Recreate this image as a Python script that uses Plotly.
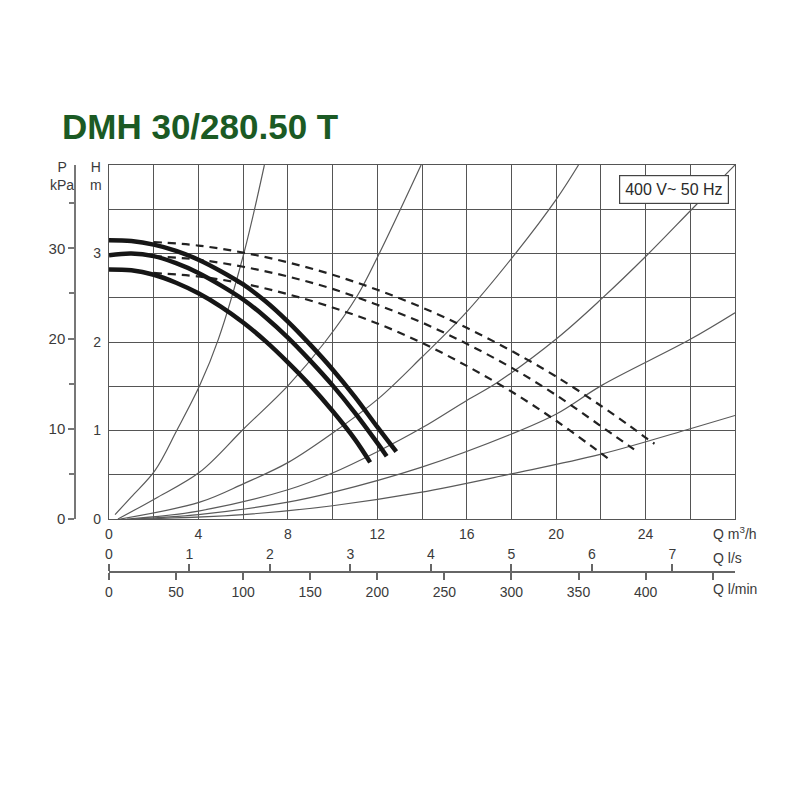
import plotly.graph_objects as go

# ---------------- data ----------------
TITLE = "DMH 30/280.50 T"
BOX_TEXT = "400 V~ 50 Hz"

# Pump curves, flow Q in m3/h, head H in m (solid, thick)
pump_top_q = [0, 1, 2, 3, 4, 5, 6, 7, 8, 9, 10, 11, 12, 12.85]
pump_top_h = [3.15, 3.14, 3.10, 3.03, 2.93, 2.80, 2.65, 2.46, 2.23, 1.97, 1.69, 1.38, 1.04, 0.76]
pump_mid_q = [0, 1, 2, 3, 4, 5, 6, 7, 8, 9, 10, 11, 12, 12.42]
pump_mid_h = [2.98, 3.00, 2.97, 2.89, 2.78, 2.64, 2.48, 2.28, 2.05, 1.79, 1.51, 1.20, 0.86, 0.71]
pump_low_q = [0, 1, 2, 3, 4, 5, 6, 7, 8, 9, 10, 11, 11.68]
pump_low_h = [2.82, 2.81, 2.76, 2.67, 2.55, 2.40, 2.22, 2.01, 1.77, 1.51, 1.22, 0.90, 0.64]

# Dashed continuations
dash_top_q = [2, 4, 6, 8, 10, 12, 14, 16, 18, 20, 22, 23.3, 24.0, 24.4]
dash_top_h = [3.13, 3.09, 3.01, 2.90, 2.76, 2.59, 2.39, 2.16, 1.90, 1.61, 1.28, 1.05, 0.92, 0.85]
dash_mid_q = [2, 4, 6, 8, 10, 12, 14, 16, 18, 20, 22, 23.24, 23.7]
dash_mid_h = [2.97, 2.93, 2.85, 2.74, 2.60, 2.42, 2.22, 1.98, 1.71, 1.40, 1.05, 0.83, 0.75]
dash_low_q = [2, 4, 6, 8, 10, 12, 14, 16, 18, 20, 21.97, 22.4]
dash_low_h = [2.78, 2.74, 2.66, 2.54, 2.39, 2.21, 1.99, 1.73, 1.44, 1.11, 0.75, 0.67]

# System (installation) curves, thin
sys1_q = [0.27, 1.0, 2.06, 3.03, 4.06, 4.89, 6.03, 6.95]
sys1_h = [0.05, 0.25, 0.55, 1.00, 1.51, 2.03, 3.00, 4.00]
sys2_q = [0.4, 2.06, 4.06, 6.03, 8.02, 9.66, 11.1, 12.05, 13.96]
sys2_h = [0.0, 0.23, 0.53, 1.02, 1.51, 2.00, 2.52, 2.98, 4.00]
sys3_q = [0.5, 4.06, 6.03, 8.02, 10.05, 12.05, 14.0, 16.0, 18.15, 20.03, 21.0]
sys3_h = [0.0, 0.19, 0.40, 0.64, 0.98, 1.36, 1.83, 2.34, 2.99, 3.62, 4.00]
sys4_q = [0.8, 4, 8, 10, 12, 14, 16, 17.35, 20.03, 22.04, 24.06, 26.07, 28]
sys4_h = [0.0, 0.09, 0.33, 0.52, 0.76, 1.03, 1.34, 1.54, 2.04, 2.49, 2.98, 3.50, 4.00]
sys5_q = [1.0, 4, 8, 10, 13.92, 18, 20.03, 22.04, 26, 28]
sys5_h = [0.0, 0.05, 0.19, 0.30, 0.58, 0.96, 1.19, 1.51, 2.03, 2.33]
sys6_q = [1.5, 6, 10, 13.92, 18, 21.97, 26, 28]
sys6_h = [0.0, 0.05, 0.15, 0.30, 0.51, 0.73, 1.02, 1.17]

# Axes ticks
q_m3h_vals = [0, 2, 4, 6, 8, 10, 12, 14, 16, 18, 20, 22, 24, 26]
q_m3h_text = ["0", "", "4", "", "8", "", "12", "", "16", "", "20", "", "24", ""]
h_vals = [0, 0.5, 1, 1.5, 2, 2.5, 3, 3.5]
h_text = ["0", "", "1", "", "2", "", "3", ""]
q_ls_vals = [0, 1, 2, 3, 4, 5, 6, 7]
q_ls_text = ["0", "1", "2", "3", "4", "5", "6", "7"]
q_lmin_vals = [0, 50, 100, 150, 200, 250, 300, 350, 400, 450]
q_lmin_text = ["0", "50", "100", "150", "200", "250", "300", "350", "400", " "]
p_vals = [0, 10, 20, 30]
p_text = ["0", "10", "20", "30"]

Q_MAX = 28.0   # m3/h
H_MAX = 4.0    # m

# ---------------- figure ----------------
OFF = 8                      # page body margin
W, H = 784, 784
ML, MR, MT, MB = 32, 52, 157, 192
PW, PH = W - ML - MR, H - MT - MB


def px_x(x):
    """page pixel x -> paper fraction"""
    return (x - OFF - ML) / PW


def px_y(y):
    """page pixel y -> paper fraction"""
    return (H - MB - (y - OFF)) / PH


fig = go.Figure()

thin = dict(color="#5a5a5a", width=1.2)
for q, h in [(sys1_q, sys1_h), (sys2_q, sys2_h), (sys3_q, sys3_h),
             (sys4_q, sys4_h), (sys5_q, sys5_h), (sys6_q, sys6_h)]:
    fig.add_trace(go.Scatter(x=q, y=h, mode="lines", line=dict(shape="spline", **thin),
                             hoverinfo="skip", showlegend=False))

for q, h in [(dash_top_q, dash_top_h), (dash_mid_q, dash_mid_h), (dash_low_q, dash_low_h)]:
    fig.add_trace(go.Scatter(x=q, y=h, mode="lines",
                             line=dict(color="#222222", width=2.2, dash="8px,6px", shape="spline"),
                             showlegend=False))

for q, h in [(pump_top_q, pump_top_h), (pump_mid_q, pump_mid_h), (pump_low_q, pump_low_h)]:
    fig.add_trace(go.Scatter(x=q, y=h, mode="lines",
                             line=dict(color="#161616", width=4.5, shape="spline"),
                             showlegend=False))

# invisible traces to activate secondary axes
fig.add_trace(go.Scatter(x=[None], y=[None], xaxis="x2", yaxis="y", showlegend=False))
fig.add_trace(go.Scatter(x=[None], y=[None], xaxis="x3", yaxis="y", showlegend=False))
fig.add_trace(go.Scatter(x=[None], y=[None], xaxis="x", yaxis="y2", showlegend=False))

grid_col = "#555555"
txt_col = "#3a3a3a"
font = dict(family="Liberation Sans, Arial, sans-serif", size=14, color=txt_col)

x_dom = [px_x(109), px_x(735)]
y_dom = [px_y(519), px_y(165)]
axis_pos = px_y(572)

fig.update_layout(
    width=W, height=H,
    margin=dict(l=ML, r=MR, t=MT, b=MB, pad=0),
    paper_bgcolor="white", plot_bgcolor="white",
    font=font,
    showlegend=False,
    xaxis=dict(domain=x_dom, range=[0, Q_MAX], tickmode="array", tickvals=q_m3h_vals,
               ticktext=q_m3h_text, showgrid=True, gridcolor=grid_col, gridwidth=1.4,
               showline=True, linecolor=grid_col, linewidth=1.4, mirror=True,
               zeroline=False, ticks="", ticklabelstandoff=2, anchor="y", automargin=False),
    yaxis=dict(domain=y_dom, range=[0, H_MAX], tickmode="array", tickvals=h_vals,
               ticktext=h_text, showgrid=True, gridcolor=grid_col, gridwidth=1.4,
               showline=True, linecolor=grid_col, linewidth=1.4, mirror=True,
               zeroline=False, ticks="", ticklabelstandoff=4, anchor="x", automargin=False),
    xaxis2=dict(overlaying="x", anchor="free", position=axis_pos, side="top",
                range=[0, Q_MAX / 3.6], tickmode="array", tickvals=q_ls_vals, ticktext=q_ls_text,
                showgrid=False, zeroline=False, showline=True, linecolor="#666666", linewidth=1.5,
                ticks="outside", ticklen=7, tickcolor="#666666", tickwidth=1.5, automargin=False),
    xaxis3=dict(overlaying="x", anchor="free", position=axis_pos, side="bottom",
                range=[0, Q_MAX * 1000 / 60], tickmode="array", tickvals=q_lmin_vals,
                ticktext=q_lmin_text,
                showgrid=False, zeroline=False, showline=True, linecolor="#666666", linewidth=1.5,
                ticks="outside", ticklen=7, tickcolor="#666666", tickwidth=1.5, automargin=False),
    yaxis2=dict(overlaying="y", anchor="free", position=px_x(75), side="left",
                range=[0, H_MAX * 9.81], tickmode="array", tickvals=p_vals, ticktext=p_text,
                showgrid=False, zeroline=False, showline=True, linecolor="#777777", linewidth=1.5,
                ticks="outside", ticklen=6, tickcolor="#777777", tickwidth=1.5, automargin=False,
                tickfont=dict(size=15, color=txt_col),
                minor=dict(tickmode="linear", tick0=5, dtick=10, ticks="outside", ticklen=5,
                           tickcolor="#777777", tickwidth=1.5, showgrid=False)),
)

ann = []
ann.append(dict(text="<b>" + TITLE + "</b>", x=px_x(60), y=px_y(127), xref="paper", yref="paper",
                xanchor="left", yanchor="middle", showarrow=False,
                font=dict(family="Liberation Sans, Arial, sans-serif", size=35, color="#1b5a24")))
ann.append(dict(text="P<br>kPa", x=px_x(62), y=px_y(176), xref="paper", yref="paper",
                xanchor="center", yanchor="middle", showarrow=False, align="center",
                font=dict(size=14, color=txt_col)))
ann.append(dict(text="H<br>m", x=px_x(96), y=px_y(176), xref="paper", yref="paper",
                xanchor="center", yanchor="middle", showarrow=False, align="center",
                font=dict(size=14, color=txt_col)))
ann.append(dict(text="Q m<sup>3</sup>/h", x=px_x(711), y=px_y(533), xref="paper", yref="paper",
                xanchor="left", yanchor="middle", showarrow=False, font=dict(size=14, color=txt_col)))
ann.append(dict(text="Q l/s", x=px_x(711), y=px_y(558), xref="paper", yref="paper",
                xanchor="left", yanchor="middle", showarrow=False, font=dict(size=14, color=txt_col)))
ann.append(dict(text="Q l/min", x=px_x(711), y=px_y(589), xref="paper", yref="paper",
                xanchor="left", yanchor="middle", showarrow=False, font=dict(size=14, color=txt_col)))
ann.append(dict(text=BOX_TEXT, x=px_x(674), y=px_y(189), xref="paper", yref="paper",
                xanchor="center", yanchor="middle", showarrow=False,
                font=dict(size=16, color="#2a2a2a"), bgcolor="white",
                bordercolor="#444444", borderwidth=1.2, borderpad=5))
fig.update_layout(annotations=ann)

fig.write_html("out.html")
